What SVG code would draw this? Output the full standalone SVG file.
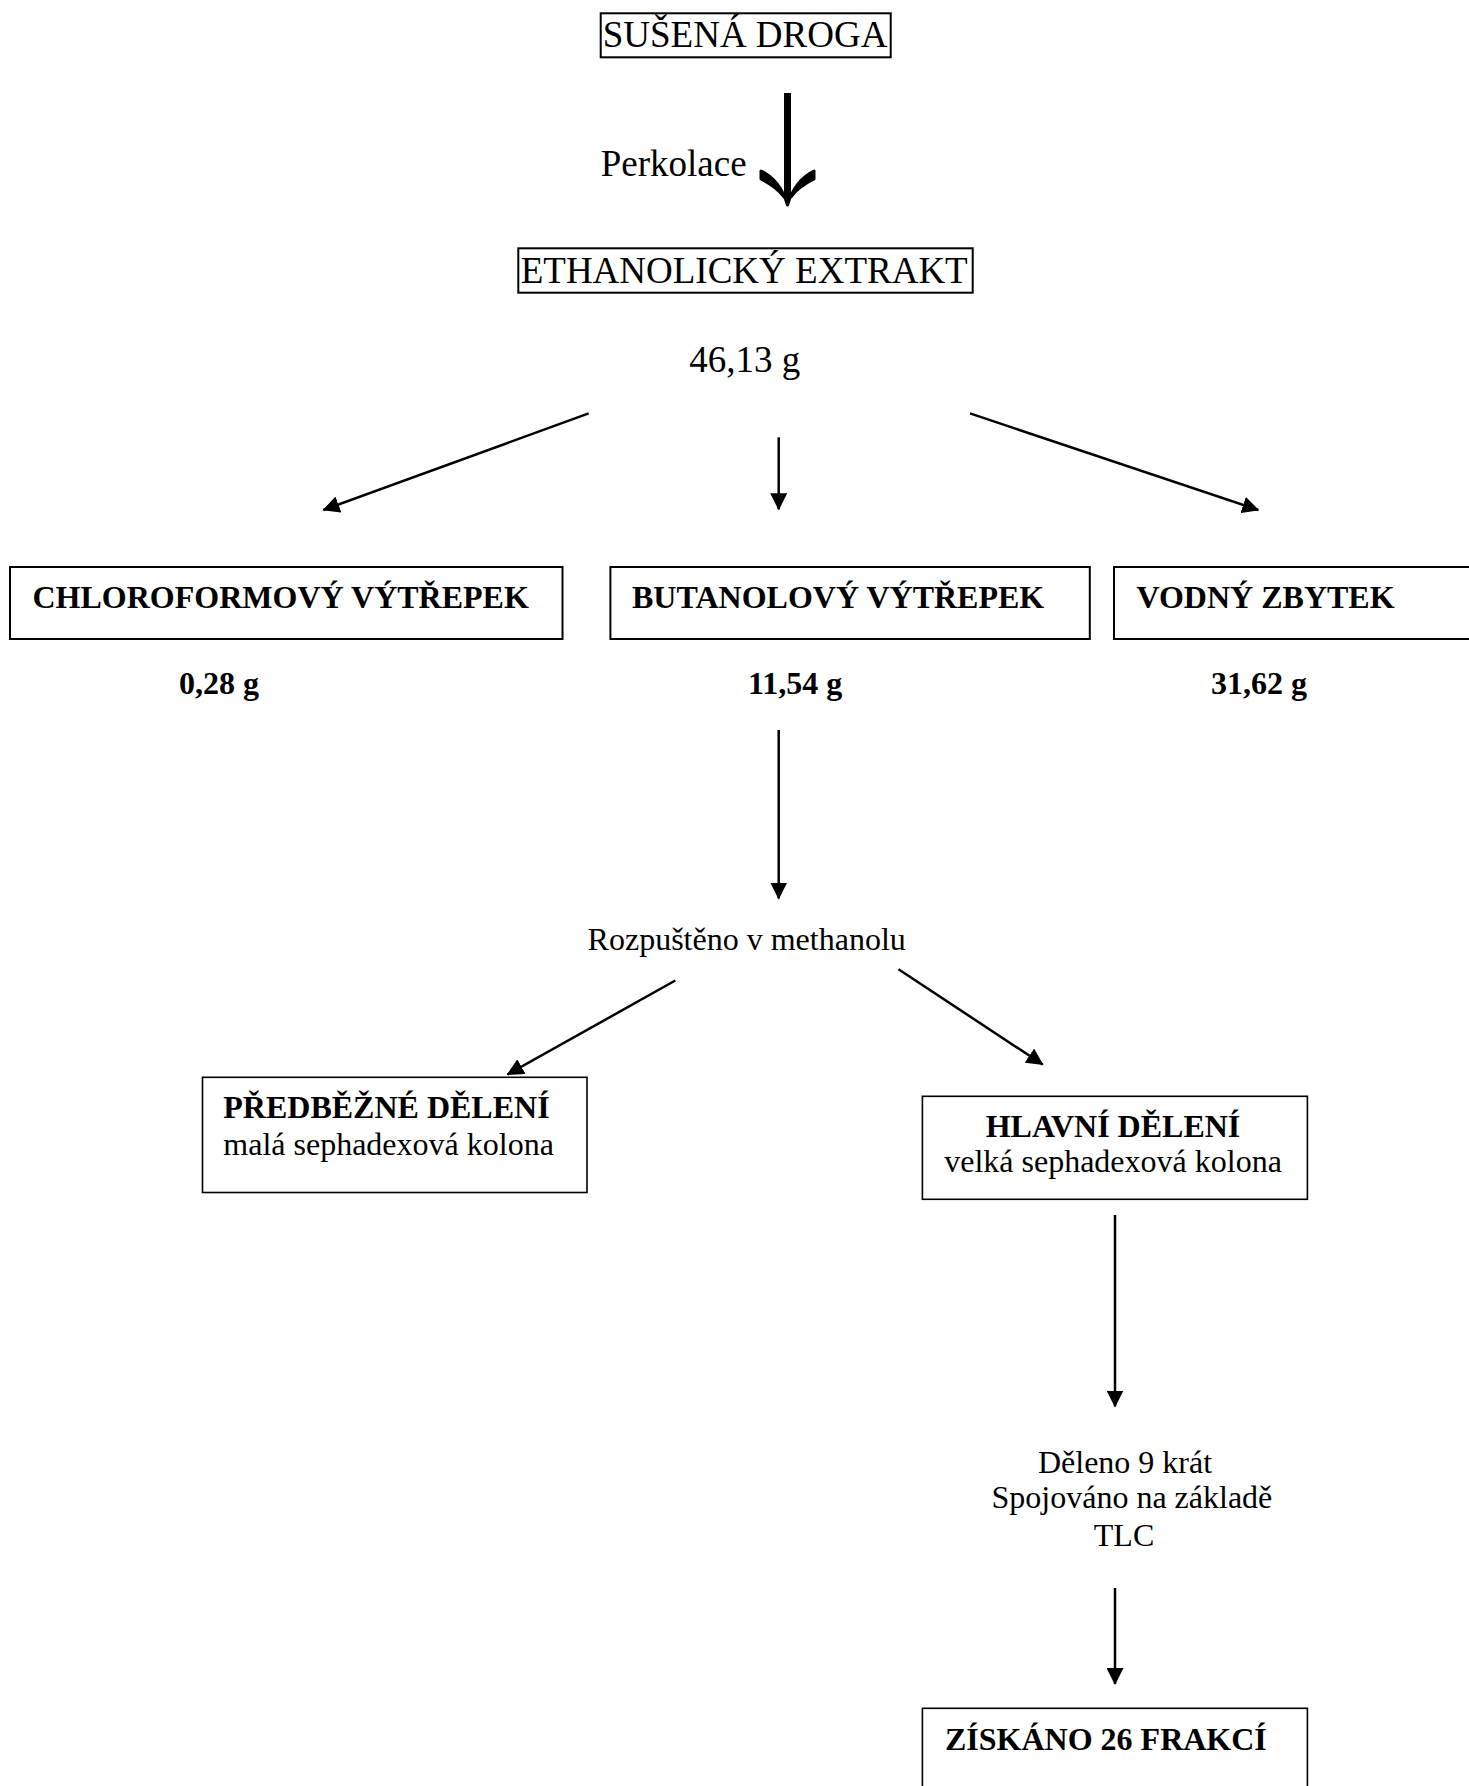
<svg xmlns="http://www.w3.org/2000/svg" width="1469" height="1786" viewBox="0 0 1469 1786">
  <style>
    text { font-family: "Liberation Serif", "Times New Roman", serif; fill: #000; }
    .lg { font-size: 37px; }
    .md { font-size: 32px; }
    .b { font-weight: bold; }
    .box { fill: #fff; stroke: #000; stroke-width: 2; }
    .box2 { fill: #fff; stroke: #000; stroke-width: 1.6; }
    .conn { stroke: #000; stroke-width: 2.5; fill: none; }
  </style>
  <defs>
    <marker id="head" viewBox="0 0 17 17" refX="16" refY="8.5" markerWidth="17" markerHeight="17" markerUnits="userSpaceOnUse" orient="auto">
      <path d="M0,0 L17,8.5 L0,17 z" fill="#000"/>
    </marker>
  </defs>

  <rect width="1469" height="1786" fill="#fff"/>

  <g id="susena-droga">
    <rect class="box" x="600.7" y="13.3" width="290" height="44"/>
    <text class="lg" x="602.7" y="47">SUŠENÁ DROGA</text>
  </g>

  <g id="perkolace">
    <text class="lg" x="600.7" y="176">Perkolace</text>
  </g>

  <g id="ethanolicky-extrakt">
    <rect class="box" x="518.3" y="248.3" width="454.4" height="44.4"/>
    <text class="lg" x="520.7" y="282.7">ETHANOLICKÝ EXTRAKT</text>
    <text class="lg" x="689.3" y="372">46,13 g</text>
  </g>

  <g id="chloroformovy">
    <rect class="box" x="10" y="567" width="552.5" height="72"/>
    <text class="md b" x="32.5" y="608">CHLOROFORMOVÝ VÝTŘEPEK</text>
    <text class="md b" x="179" y="694">0,28 g</text>
  </g>

  <g id="butanolovy">
    <rect class="box" x="610.4" y="567" width="479.4" height="72"/>
    <text class="md b" x="632" y="608">BUTANOLOVÝ VÝTŘEPEK</text>
    <text class="md b" x="748" y="694">11,54 g</text>
  </g>

  <g id="vodny-zbytek">
    <rect class="box" x="1114" y="567" width="380" height="72"/>
    <text class="md b" x="1136.5" y="608">VODNÝ ZBYTEK</text>
    <text class="md b" x="1211" y="694">31,62 g</text>
  </g>

  <g id="rozpusteno">
    <text class="md" x="587.6" y="950">Rozpuštěno v methanolu</text>
  </g>

  <g id="predbezne-deleni">
    <rect class="box2" x="202.5" y="1077.3" width="384.5" height="115.2"/>
    <text class="md b" x="223.3" y="1118.3">PŘEDBĚŽNÉ DĚLENÍ</text>
    <text class="md" x="223.3" y="1155">malá sephadexová kolona</text>
  </g>

  <g id="hlavni-deleni">
    <rect class="box2" x="922.4" y="1096.3" width="385" height="103"/>
    <text class="md b" x="1113" y="1136.7" text-anchor="middle">HLAVNÍ DĚLENÍ</text>
    <text class="md" x="1113" y="1171.7" text-anchor="middle">velká sephadexová kolona</text>
  </g>

  <g id="deleno">
    <text class="md" x="1125" y="1472.7" text-anchor="middle">Děleno 9 krát</text>
    <text class="md" x="991.5" y="1508.3">Spojováno na základě</text>
    <text class="md" x="1124" y="1545.7" text-anchor="middle">TLC</text>
  </g>

  <g id="ziskano">
    <rect class="box2" x="922.4" y="1708.3" width="385" height="100"/>
    <text class="md b" x="945" y="1750">ZÍSKÁNO 26 FRAKCÍ</text>
  </g>

  <g id="connectors">
    <!-- heavy percolation arrow -->
    <line x1="787.5" y1="93" x2="787.5" y2="196" stroke="#000" stroke-width="7"/>
    <path d="M761,171 Q780,180 787.5,205 Q795,180 814,171 L814,179 Q798,187 791,197 L784,197 Q777,187 761,179 Z" fill="#000" stroke="#000" stroke-width="3" stroke-linejoin="round"/>

    <line class="conn" x1="588.7" y1="413.4" x2="323.4" y2="510" marker-end="url(#head)"/>
    <line class="conn" x1="778.7" y1="437.3" x2="778.7" y2="509.3" marker-end="url(#head)"/>
    <line class="conn" x1="970" y1="413.4" x2="1258.3" y2="510" marker-end="url(#head)"/>

    <line class="conn" x1="778.7" y1="730" x2="778.7" y2="898.5" marker-end="url(#head)"/>

    <line class="conn" x1="675.3" y1="980.5" x2="507.5" y2="1074.5" marker-end="url(#head)"/>
    <line class="conn" x1="898.5" y1="969.3" x2="1042.7" y2="1064.5" marker-end="url(#head)"/>

    <line class="conn" x1="1115" y1="1215" x2="1115" y2="1406.5" marker-end="url(#head)"/>
    <line class="conn" x1="1115" y1="1588" x2="1115" y2="1684" marker-end="url(#head)"/>
  </g>
</svg>
